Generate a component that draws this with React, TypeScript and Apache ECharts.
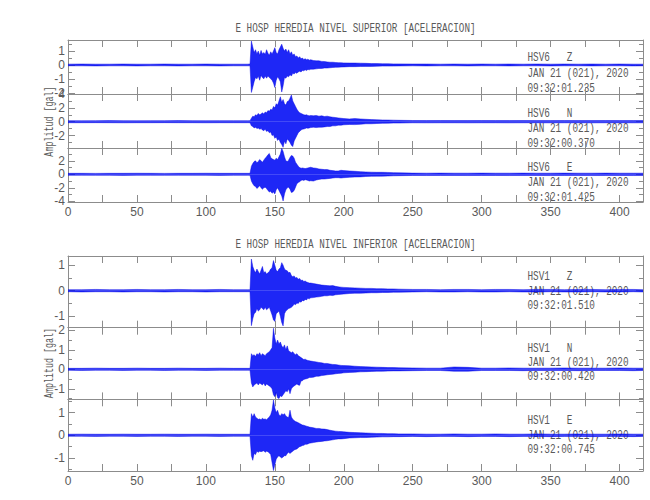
import React, { useEffect, useRef } from 'react';
import * as echarts from 'echarts';

// ---- data: time (s) and the upper / lower envelope of each trace (gal) ----
const T = [
  0, 10, 20, 30, 40, 50, 60, 70, 80, 90, 100, 110, 120, 130,
  132, 133, 134, 135, 136, 137, 138, 139, 140, 141, 142, 143, 144, 145, 146, 147, 148, 149, 150,
  151, 152, 153, 154, 155, 156, 157, 158, 159, 160, 161, 162, 163, 164, 165, 166, 167, 168, 169,
  170, 171, 172, 173, 174, 175, 176,
  178, 180, 182, 184, 186, 188, 190, 192, 194, 196, 198, 200,
  204, 208, 212, 216, 220, 224, 228, 232, 236, 240,
  250, 260, 270, 280, 290, 300, 310, 320, 330, 340, 350, 360, 370, 380, 390, 400, 410, 417,
];

// Upper level (HSV6)
const SUP_Z_HI = [
  0.06, 0.07, 0.06, 0.06, 0.07, 0.06, 0.06, 0.07, 0.06, 0.06, 0.07, 0.06, 0.06, 0.06,
  0.07, 1.72, 1.3, 0.9, 1.1, 0.8, 1.0, 0.7, 1.05, 0.8, 0.9, 0.75, 1.1, 0.85, 0.7, 0.95, 0.8, 1.0, 1.25,
  0.9, 0.8, 1.1, 1.3, 1.5, 1.2, 1.0, 1.15, 0.9, 1.1, 0.8, 0.95, 0.7, 0.8, 0.6, 0.65, 0.5, 0.6, 0.45,
  0.5, 0.4, 0.45, 0.38, 0.42, 0.35, 0.38,
  0.32, 0.3, 0.3, 0.26, 0.25, 0.22, 0.2, 0.2, 0.18, 0.17, 0.16, 0.15,
  0.14, 0.14, 0.13, 0.12, 0.1, 0.1, 0.09, 0.09, 0.08, 0.08,
  0.07, 0.07, 0.06, 0.07, 0.06, 0.07, 0.06, 0.07, 0.06, 0.07, 0.06, 0.07, 0.06, 0.07, 0.06, 0.07, 0.06, 0.06,
];
const SUP_Z_LO = [
  -0.06, -0.06, -0.07, -0.06, -0.06, -0.07, -0.06, -0.06, -0.07, -0.06, -0.06, -0.07, -0.06, -0.06,
  -0.06, -1.98, -1.6, -1.2, -0.9, -1.0, -0.8, -1.1, -0.75, -0.9, -1.0, -0.8, -0.95, -0.8, -0.9, -1.0, -1.1, -1.3, -1.62,
  -1.1, -0.85, -1.0, -1.2, -1.95, -1.5, -0.9, -0.95, -0.8, -0.85, -0.7, -0.8, -0.6, -0.65, -0.55, -0.6, -0.5, -0.45, -0.5,
  -0.4, -0.42, -0.35, -0.4, -0.32, -0.35, -0.3,
  -0.3, -0.28, -0.25, -0.25, -0.22, -0.22, -0.2, -0.18, -0.17, -0.16, -0.15, -0.14,
  -0.12, -0.12, -0.11, -0.1, -0.1, -0.09, -0.08, -0.08, -0.08, -0.07,
  -0.06, -0.07, -0.06, -0.06, -0.07, -0.06, -0.06, -0.07, -0.06, -0.06, -0.07, -0.06, -0.06, -0.07, -0.06, -0.06, -0.07, -0.06,
];
const SUP_N_HI = [
  0.15, 0.14, 0.15, 0.16, 0.15, 0.14, 0.15, 0.15, 0.16, 0.15, 0.14, 0.15, 0.15, 0.15,
  0.15, 0.5, 0.8, 0.7, 1.0, 0.9, 1.2, 1.0, 1.1, 1.3, 1.1, 1.4, 1.3, 1.6, 1.5, 1.8, 1.7, 2.2, 2.0,
  2.6, 2.4, 3.0, 3.6, 2.8, 3.2, 2.6, 2.4, 2.9, 3.0, 3.4, 3.85, 3.0, 2.6, 2.2, 1.8, 1.5, 1.3, 1.2,
  1.1, 1.0, 0.95, 1.0, 0.9, 0.85, 0.9,
  0.85, 0.9, 0.8, 0.85, 0.75, 0.8, 0.7, 0.65, 0.6, 0.55, 0.5, 0.45,
  0.4, 0.45, 0.4, 0.35, 0.3, 0.28, 0.25, 0.24, 0.22, 0.2,
  0.17, 0.16, 0.17, 0.16, 0.16, 0.17, 0.16, 0.16, 0.17, 0.16, 0.16, 0.17, 0.16, 0.16, 0.17, 0.16, 0.16, 0.16,
];
const SUP_N_LO = [
  -0.15, -0.15, -0.14, -0.15, -0.16, -0.15, -0.15, -0.14, -0.15, -0.15, -0.16, -0.15, -0.15, -0.15,
  -0.15, -0.6, -0.7, -0.9, -0.8, -1.0, -0.9, -1.1, -1.0, -1.2, -1.3, -1.1, -1.4, -1.3, -1.6, -1.5, -2.0, -1.9, -2.4,
  -2.2, -2.7, -2.5, -3.0, -3.3, -3.7, -2.8, -3.2, -2.5, -2.7, -3.0, -3.4, -3.6, -2.8, -2.4, -2.0, -1.6, -1.4, -1.2,
  -1.1, -1.05, -1.0, -0.9, -0.95, -0.9, -0.85,
  -0.8, -0.85, -0.8, -0.8, -0.75, -0.7, -0.7, -0.6, -0.6, -0.5, -0.5, -0.45,
  -0.4, -0.42, -0.38, -0.3, -0.3, -0.26, -0.24, -0.22, -0.2, -0.2,
  -0.16, -0.17, -0.16, -0.16, -0.17, -0.16, -0.16, -0.17, -0.16, -0.16, -0.17, -0.16, -0.16, -0.17, -0.16, -0.16, -0.17, -0.16,
];
const SUP_E_HI = [
  0.15, 0.15, 0.14, 0.15, 0.15, 0.16, 0.15, 0.14, 0.15, 0.15, 0.16, 0.15, 0.15, 0.15,
  0.15, 1.2, 1.6, 1.9, 2.0, 1.7, 1.9, 2.2, 2.0, 1.8, 2.1, 2.4, 2.6, 2.9, 3.1, 2.5, 2.3, 2.2, 2.1,
  2.4, 2.2, 2.6, 3.0, 3.85, 3.4, 2.6, 2.0, 1.9, 2.1, 2.5, 2.8, 2.7, 2.4, 1.8, 1.5, 1.2, 1.0, 0.9,
  0.95, 0.9, 0.85, 0.9, 0.95, 1.0, 1.05,
  0.95, 0.9, 0.8, 0.75, 0.7, 0.7, 0.6, 0.55, 0.5, 0.5, 0.6, 0.55,
  0.5, 0.45, 0.4, 0.35, 0.32, 0.3, 0.3, 0.28, 0.25, 0.22,
  0.18, 0.17, 0.18, 0.17, 0.17, 0.18, 0.17, 0.17, 0.18, 0.17, 0.17, 0.18, 0.17, 0.17, 0.18, 0.17, 0.17, 0.17,
];
const SUP_E_LO = [
  -0.15, -0.14, -0.15, -0.15, -0.16, -0.15, -0.15, -0.15, -0.14, -0.15, -0.15, -0.16, -0.15, -0.15,
  -0.15, -1.0, -1.4, -1.7, -1.8, -2.1, -1.9, -1.7, -2.0, -2.2, -2.0, -1.9, -2.1, -2.4, -2.6, -2.5, -2.8, -2.6, -2.9,
  -2.3, -2.0, -2.4, -2.8, -3.2, -3.95, -2.9, -2.3, -2.0, -1.9, -2.2, -2.7, -2.6, -2.4, -1.9, -1.4, -1.2, -1.1, -0.9,
  -0.85, -0.9, -0.8, -0.85, -0.9, -1.0, -0.95,
  -1.0, -0.85, -0.75, -0.7, -0.7, -0.65, -0.6, -0.55, -0.5, -0.5, -0.55, -0.5,
  -0.45, -0.4, -0.38, -0.32, -0.3, -0.28, -0.27, -0.25, -0.22, -0.2,
  -0.17, -0.18, -0.17, -0.17, -0.18, -0.17, -0.17, -0.18, -0.17, -0.17, -0.18, -0.17, -0.17, -0.18, -0.17, -0.17, -0.18, -0.17,
];

// Lower level (HSV1)
const INF_Z_HI = [
  0.04, 0.04, 0.05, 0.04, 0.04, 0.05, 0.04, 0.04, 0.05, 0.04, 0.04, 0.05, 0.04, 0.04,
  0.04, 1.24, 0.95, 0.8, 0.7, 0.85, 0.75, 0.65, 0.8, 0.95, 0.7, 0.75, 0.65, 0.7, 0.75, 0.85, 0.9, 1.18, 1.0,
  0.8, 0.75, 0.85, 0.9, 1.1, 1.0, 0.85, 0.8, 0.78, 0.7, 0.72, 0.6, 0.55, 0.58, 0.5, 0.52, 0.45, 0.48, 0.4,
  0.42, 0.36, 0.38, 0.34, 0.32, 0.3, 0.3,
  0.28, 0.26, 0.24, 0.22, 0.21, 0.2, 0.19, 0.2, 0.17, 0.15, 0.14, 0.13,
  0.12, 0.11, 0.1, 0.09, 0.09, 0.08, 0.08, 0.07, 0.07, 0.06,
  0.05, 0.05, 0.04, 0.05, 0.05, 0.04, 0.05, 0.05, 0.04, 0.05, 0.05, 0.04, 0.05, 0.05, 0.04, 0.05, 0.05, 0.04,
];
const INF_Z_LO = [
  -0.04, -0.05, -0.04, -0.04, -0.05, -0.04, -0.04, -0.05, -0.04, -0.04, -0.05, -0.04, -0.04, -0.04,
  -0.04, -1.37, -1.1, -0.9, -0.85, -0.7, -0.8, -0.75, -0.65, -0.7, -0.75, -0.65, -0.75, -0.7, -0.65, -0.8, -0.95, -1.15, -1.2,
  -0.9, -0.85, -0.8, -1.0, -1.25, -1.38, -0.9, -0.8, -0.75, -0.7, -0.68, -0.65, -0.6, -0.52, -0.55, -0.48, -0.5, -0.42, -0.45,
  -0.38, -0.4, -0.34, -0.36, -0.3, -0.32, -0.28,
  -0.27, -0.25, -0.24, -0.22, -0.2, -0.2, -0.18, -0.19, -0.16, -0.15, -0.14, -0.13,
  -0.11, -0.1, -0.1, -0.09, -0.08, -0.08, -0.07, -0.07, -0.06, -0.06,
  -0.05, -0.04, -0.05, -0.05, -0.04, -0.05, -0.05, -0.04, -0.05, -0.05, -0.04, -0.05, -0.05, -0.04, -0.05, -0.05, -0.04, -0.05,
];
const INF_N_HI = [
  0.05, 0.05, 0.06, 0.05, 0.05, 0.06, 0.05, 0.05, 0.06, 0.05, 0.05, 0.06, 0.05, 0.05,
  0.05, 0.8, 0.7, 0.75, 0.65, 0.8, 0.75, 0.85, 0.7, 0.8, 0.75, 0.7, 0.8, 0.85, 0.9, 1.0, 1.1, 2.1, 1.6,
  1.3, 1.5, 1.3, 1.4, 1.2, 1.1, 1.25, 1.0, 1.2, 0.95, 0.9, 0.85, 0.9, 0.8, 0.75, 0.8, 0.7, 0.65, 0.6,
  0.55, 0.5, 0.52, 0.48, 0.45, 0.44, 0.42,
  0.4, 0.38, 0.35, 0.33, 0.3, 0.3, 0.27, 0.25, 0.24, 0.22, 0.2, 0.19,
  0.18, 0.16, 0.14, 0.13, 0.12, 0.11, 0.1, 0.09, 0.09, 0.08,
  0.07, 0.06, 0.06, 0.12, 0.1, 0.06, 0.06, 0.07, 0.06, 0.06, 0.06, 0.07, 0.06, 0.06, 0.06, 0.07, 0.06, 0.06,
];
const INF_N_LO = [
  -0.05, -0.06, -0.05, -0.05, -0.06, -0.05, -0.05, -0.06, -0.05, -0.05, -0.06, -0.05, -0.05, -0.05,
  -0.05, -0.7, -0.9, -0.8, -0.75, -0.7, -0.8, -0.7, -0.75, -0.8, -0.7, -0.85, -0.75, -0.8, -0.85, -0.9, -1.0, -1.3, -1.4,
  -1.2, -1.45, -1.5, -1.35, -1.4, -1.3, -1.2, -1.1, -1.15, -1.0, -1.25, -1.0, -0.9, -0.85, -0.8, -0.75, -0.8, -0.82, -0.6,
  -0.58, -0.52, -0.5, -0.48, -0.46, -0.42, -0.42,
  -0.4, -0.36, -0.35, -0.32, -0.3, -0.28, -0.26, -0.25, -0.23, -0.21, -0.2, -0.18,
  -0.16, -0.15, -0.13, -0.12, -0.11, -0.1, -0.1, -0.09, -0.08, -0.08,
  -0.07, -0.06, -0.06, -0.1, -0.1, -0.06, -0.06, -0.06, -0.07, -0.06, -0.06, -0.06, -0.07, -0.06, -0.06, -0.06, -0.07, -0.06,
];
const INF_E_HI = [
  0.045, 0.05, 0.045, 0.045, 0.05, 0.045, 0.045, 0.05, 0.045, 0.045, 0.05, 0.045, 0.045, 0.045,
  0.045, 0.95, 0.8, 0.95, 0.8, 0.75, 0.7, 0.72, 0.68, 0.75, 0.7, 0.72, 0.68, 0.75, 0.8, 0.9, 1.1, 1.55, 1.2,
  1.0, 1.1, 0.9, 0.85, 0.95, 0.9, 0.95, 0.85, 0.8, 0.78, 1.1, 0.8, 0.7, 0.65, 0.6, 0.58, 0.55, 0.52, 0.48,
  0.45, 0.44, 0.42, 0.4, 0.38, 0.36, 0.35,
  0.33, 0.3, 0.3, 0.28, 0.27, 0.25, 0.22, 0.2, 0.18, 0.17, 0.16, 0.15,
  0.13, 0.12, 0.11, 0.1, 0.09, 0.08, 0.08, 0.07, 0.07, 0.06,
  0.06, 0.05, 0.05, 0.06, 0.05, 0.05, 0.06, 0.05, 0.05, 0.06, 0.05, 0.05, 0.06, 0.05, 0.05, 0.06, 0.05, 0.05,
];
const INF_E_LO = [
  -0.045, -0.045, -0.05, -0.045, -0.045, -0.05, -0.045, -0.045, -0.05, -0.045, -0.045, -0.05, -0.045, -0.045,
  -0.045, -0.9, -1.1, -0.8, -0.85, -0.7, -0.75, -0.7, -0.72, -0.7, -0.68, -0.75, -0.7, -0.72, -0.78, -0.85, -1.2, -1.55, -1.3,
  -1.05, -0.95, -0.9, -0.95, -1.0, -0.95, -0.9, -0.9, -0.8, -0.75, -0.8, -0.75, -0.7, -0.65, -0.62, -0.6, -0.55, -0.5, -0.48,
  -0.45, -0.44, -0.4, -0.4, -0.38, -0.35, -0.34,
  -0.32, -0.3, -0.28, -0.27, -0.25, -0.24, -0.22, -0.2, -0.18, -0.16, -0.16, -0.15,
  -0.12, -0.11, -0.1, -0.1, -0.09, -0.08, -0.07, -0.07, -0.06, -0.06,
  -0.05, -0.06, -0.05, -0.05, -0.06, -0.05, -0.05, -0.06, -0.05, -0.05, -0.06, -0.05, -0.05, -0.06, -0.05, -0.05, -0.06, -0.05,
];

const Y_MIN = [-2.09, -3.8, -4.1, -1.45, -1.54, -1.57];
const Y_MAX = [1.8, 4.0, 3.9, 1.36, 2.13, 1.58];
const Y_STEP = [1, 2, 2, 1, 1, 1];
const X_MAX = 417;

const TITLES = [
  'E HOSP HEREDIA NIVEL SUPERIOR [ACELERACION]',
  'E HOSP HEREDIA NIVEL INFERIOR [ACELERACION]',
];
const STATIONS = ['HSV6   Z', 'HSV6   N', 'HSV6   E', 'HSV1   Z', 'HSV1   N', 'HSV1   E'];
const DATE_LABEL = 'JAN 21 (021), 2020';
const START_TIMES = ['09:32:01.235', '09:32:00.370', '09:32:01.425', '09:32:01.510', '09:32:00.420', '09:32:00.745'];
const Y_NAME = 'Amplitud [gal]';

const TRACES = [
  [SUP_Z_HI, SUP_Z_LO], [SUP_N_HI, SUP_N_LO], [SUP_E_HI, SUP_E_LO],
  [INF_Z_HI, INF_Z_LO], [INF_N_HI, INF_N_LO], [INF_E_HI, INF_E_LO],
];

// ---- layout ----
const LEFT = 68;
const RIGHT = 7;
const GRID_TOP = [40, 94, 148, 256, 327.7, 399.3];
const GRID_H = [54, 54, 54, 71.7, 71.7, 71.7];
const FRAME = '#8c8c8c';
const TXT = '#5a5a5a';
const MONO = '"Liberation Mono", "DejaVu Sans Mono", monospace';
const SANS = '"Liberation Sans", Arial, sans-serif';
const TEXT_ROWS = [
  [58, 74, 89], [114, 129, 144], [168, 183, 198],
  [277, 292, 306], [349, 363, 377], [421, 436, 450],
];

export default function App() {
  const ref = useRef<HTMLDivElement>(null);
  useEffect(() => {
    if (!ref.current) return;
    const chart = echarts.init(ref.current, undefined, { renderer: 'svg' });
    const grid: any[] = [];
    const xAxis: any[] = [];
    const yAxis: any[] = [];
    const series: any[] = [];
    for (let i = 0; i < 6; i++) {
      grid.push({ left: LEFT, right: RIGHT, top: GRID_TOP[i], height: GRID_H[i], containLabel: false });
      const showX = i === 2 || i === 5;
      const xBase = {
        type: 'value', gridIndex: i, min: 0, max: X_MAX, interval: 25,
        axisLine: { show: true, onZero: false, lineStyle: { color: FRAME, width: 1 } },
        axisTick: { show: true, inside: true, length: 7, lineStyle: { color: FRAME } },
        splitLine: { show: false },
      };
      xAxis.push({
        ...xBase, position: 'bottom',
        axisLabel: {
          show: showX, margin: 4, color: TXT, fontSize: 12, fontFamily: SANS,
          formatter: (v: number) => (v % 50 === 0 ? String(v) : ''),
        },
      });
      xAxis.push({ ...xBase, position: 'top', axisLabel: { show: false } });
      const step = Y_STEP[i];
      const yBase = {
        type: 'value', gridIndex: i, min: Y_MIN[i], max: Y_MAX[i],
        minInterval: step, maxInterval: step,
        axisLine: { show: true, onZero: false, lineStyle: { color: FRAME, width: 1 } },
        axisTick: { show: true, inside: true, length: 7, lineStyle: { color: FRAME } },
        minorTick: { show: true, splitNumber: 2, length: 4, lineStyle: { color: FRAME } },
        splitLine: { show: false },
        minorSplitLine: { show: false },
      };
      yAxis.push({
        ...yBase, position: 'left',
        axisLabel: {
          show: true, margin: 3, color: TXT, fontSize: 12, fontFamily: SANS,
          formatter: (v: number) => {
            const r = Math.round(v / step) * step;
            return Math.abs(v - r) < 1e-6 ? String(r) : '';
          },
        },
      });
      yAxis.push({ ...yBase, position: 'right', axisLabel: { show: false } });
      const [hi, lo] = TRACES[i];
      [hi, lo].forEach((arr) => {
        series.push({
          type: 'line', xAxisIndex: 2 * i, yAxisIndex: 2 * i,
          data: T.map((t, k) => [t, arr[k]]),
          showSymbol: false, symbol: 'none', silent: true, clip: true,
          lineStyle: { color: '#0000e6', width: 0.45 },
          areaStyle: { color: '#0610f5', opacity: 0.9, origin: 0 },
        });
      });
    }
    const graphic: any[] = [];
    const titleY = [29, 245];
    TITLES.forEach((t, k) => {
      graphic.push({
        type: 'text', x: 355.5, y: titleY[k], scaleX: 0.745,
        style: { text: t, fill: TXT, fontSize: 12.5, fontFamily: MONO, align: 'center', verticalAlign: 'middle' },
      });
    });
    for (let i = 0; i < 6; i++) {
      const lines = [STATIONS[i], DATE_LABEL, START_TIMES[i]];
      lines.forEach((s, j) => {
        graphic.push({
          type: 'text', x: 527.5, y: TEXT_ROWS[i][j], scaleX: 0.75,
          style: { text: s, fill: TXT, fontSize: 12.5, fontFamily: MONO, align: 'left', verticalAlign: 'middle' },
        });
      });
    }
    [121.5, 363].forEach((cy) => {
      graphic.push({
        type: 'text', x: 49, y: cy, rotation: Math.PI / 2, scaleX: 0.67,
        style: { text: Y_NAME, fill: TXT, fontSize: 12.5, fontFamily: MONO, align: 'center', verticalAlign: 'middle' },
      });
    });
    chart.setOption({
      animation: false,
      backgroundColor: '#ffffff',
      grid, xAxis, yAxis, series, graphic,
    });
    return () => chart.dispose();
  }, []);
  return <div ref={ref} style={{ position: 'fixed', left: 0, top: 0, width: 650, height: 500 }} />;
}
